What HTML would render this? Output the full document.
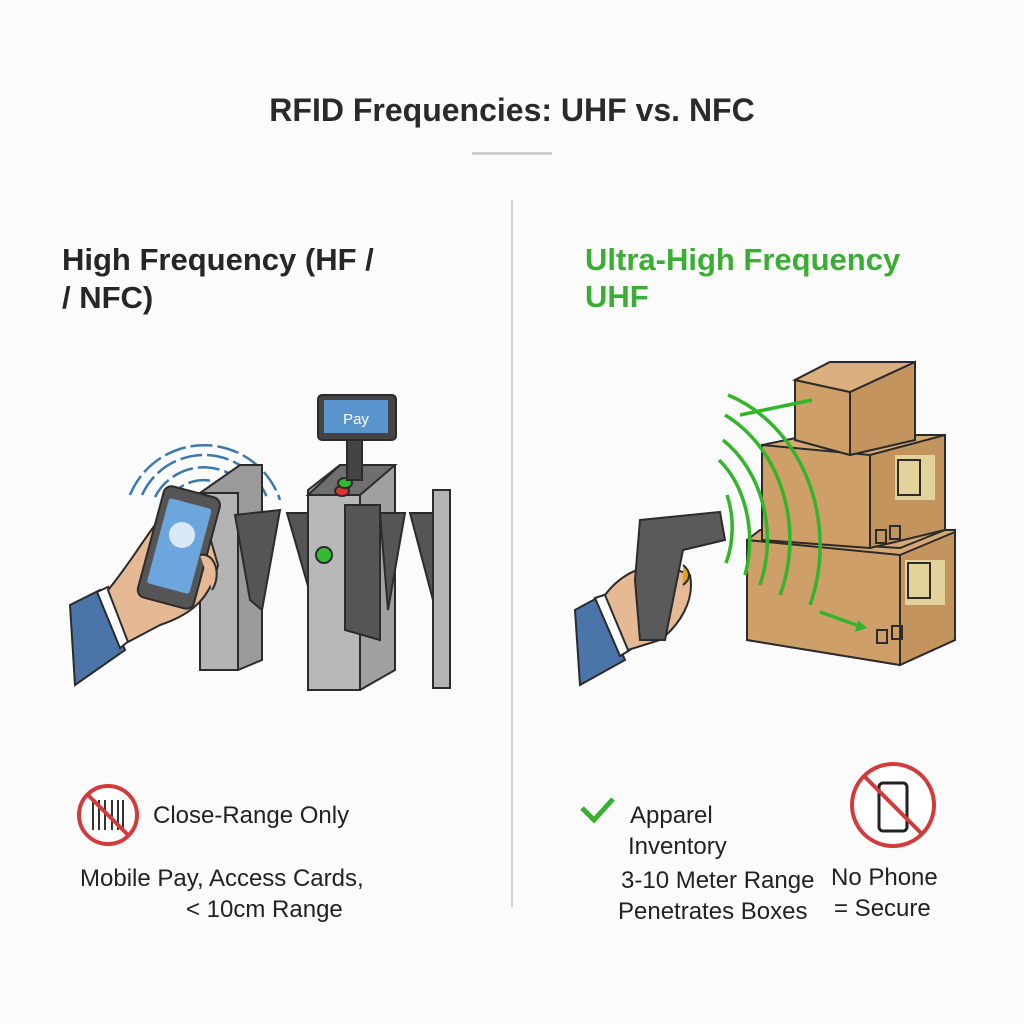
<!DOCTYPE html>
<html><head><meta charset="utf-8"><style>
html,body{margin:0;padding:0;background:#fbfbfb;}
svg{display:block;font-family:"Liberation Sans",sans-serif;}
</style></head><body>
<svg width="1024" height="1024" viewBox="0 0 1024 1024" xmlns="http://www.w3.org/2000/svg">
<rect width="1024" height="1024" fill="#fbfbfb"/>
<text x="512" y="121" text-anchor="middle" font-size="32" font-weight="bold" fill="#2a2a2a">RFID Frequencies: UHF vs. NFC</text>
<rect x="472" y="152" width="80" height="3" fill="#cfcfcf"/>
<rect x="511" y="200" width="2" height="707" fill="#d4d4d4"/>
<text x="62" y="270" font-size="31" font-weight="bold" fill="#262626">High Frequency (HF /</text>
<text x="62" y="308" font-size="31" font-weight="bold" fill="#262626">/ NFC)</text>
<text x="585" y="270" font-size="31" font-weight="bold" fill="#3aae32">Ultra-High Frequency</text>
<text x="585" y="307" font-size="31" font-weight="bold" fill="#3aae32">UHF</text>

<!-- LEFT ILLUSTRATION -->
<g stroke="#2b2b2b" stroke-width="2">
<g fill="none" stroke="#3c78b0" stroke-width="2.5" stroke-dasharray="22 5">
<path d="M130 495 A80 80 0 0 1 280 500"/>
<path d="M142 495 A68 68 0 0 1 268 500"/>
<path d="M155 497 A55 55 0 0 1 255 502"/>
<path d="M168 500 A42 42 0 0 1 242 505"/>
</g>
<polygon points="200,493 240,465 262,465 262,660 238,670 200,670" fill="#9a9a9a"/>
<rect x="200" y="493" width="38" height="177" fill="#b3b3b3"/>
<polygon points="235,515 280,510 262,610 250,600" fill="#555"/>
<polygon points="287,513 312,513 312,600" fill="#555"/>
<polygon points="308,490 340,465 395,465 395,670 360,690 308,690" fill="#a0a0a0"/>
<rect x="308" y="495" width="52" height="195" fill="#b8b8b8"/>
<polygon points="308,495 340,465 395,465 360,495" fill="#6f6f6f"/>
<ellipse cx="342" cy="491" rx="7" ry="5" fill="#d33"/>
<ellipse cx="345" cy="483" rx="7" ry="5" fill="#3b3"/>
<circle cx="324" cy="555" r="8" fill="#3b3"/>
<polygon points="345,505 380,505 380,640 345,630" fill="#555"/>
<polygon points="380,513 405,513 388,610" fill="#555"/>
<rect x="347" y="440" width="15" height="40" fill="#444"/>
<rect x="318" y="395" width="78" height="45" rx="4" fill="#444"/>
<rect x="324" y="400" width="64" height="33" fill="#5a94cc" stroke="none"/>
<text x="356" y="424" text-anchor="middle" font-size="15" fill="#fff" stroke="none"> Pay</text>
<polygon points="410,513 433,513 433,600" fill="#555"/>
<rect x="433" y="490" width="17" height="198" fill="#b3b3b3"/>
<polygon points="70,605 100,590 125,650 75,685" fill="#4b74a8"/>
<polygon points="97,592 108,587 130,640 120,648" fill="#fff"/>
<path d="M108,590 C125,570 140,545 155,525 L205,520 L218,565 C210,600 190,615 160,625 L128,642 Z" fill="#e6b995"/>
<rect x="150" y="490" width="58" height="115" rx="8" transform="rotate(15 179 547)" fill="#555"/>
<rect x="157" y="502" width="44" height="88" rx="3" transform="rotate(15 179 547)" fill="#6ca6dc" stroke="none"/>
<circle cx="182" cy="535" r="13" fill="#d9e9f7" stroke="none"/>
<path d="M200,555 C215,552 222,575 212,590" fill="#e6b995"/>
</g>

<!-- RIGHT ILLUSTRATION -->
<g stroke="#2b2b2b" stroke-width="2">
<polygon points="747,540 760,530 955,530 955,640 900,665 747,640" fill="#d6a874"/>
<polygon points="747,540 900,555 900,665 747,640" fill="#cf9f69"/>
<polygon points="900,555 955,532 955,640 900,665" fill="#c4945f"/>
<rect x="905" y="560" width="40" height="45" fill="#e3d39a" stroke="none"/>
<rect x="908" y="563" width="22" height="35" fill="none"/>
<polygon points="762,445 810,435 945,435 945,530 900,548 762,540" fill="#d6a874"/>
<polygon points="762,445 870,455 870,548 762,540" fill="#cf9f69"/>
<polygon points="870,455 945,435 945,530 870,548" fill="#c4945f"/>
<rect x="895" y="455" width="40" height="45" fill="#e3d39a" stroke="none"/>
<rect x="898" y="460" width="22" height="35" fill="none"/>
<rect x="876" y="530" width="10" height="13" fill="none"/><rect x="890" y="526" width="10" height="13" fill="none"/>
<rect x="877" y="630" width="10" height="13" fill="none"/><rect x="892" y="626" width="10" height="13" fill="none"/>
<polygon points="795,380 830,362 915,362 915,440 850,455 795,440" fill="#d6a874"/>
<polygon points="795,380 850,392 850,455 795,440" fill="#cf9f69"/>
<polygon points="850,392 915,362 915,440 850,455" fill="#c4945f"/>
<polygon points="830,362 915,362 850,392 795,380" fill="#dcb07e"/>
<g fill="none" stroke="#33b52b" stroke-width="3.5">
<path d="M727,495 A45 70 0 0 1 726,563"/>
<path d="M719,460 A75 100 0 0 1 745,575"/>
<path d="M723,440 A100 120 0 0 1 760,585"/>
<path d="M725,415 A120 140 0 0 1 780,595"/>
<path d="M728,395 A140 160 0 0 1 810,605"/>
<path d="M740,415 L812,400"/>
<path d="M820,612 L862,627"/>
</g>
<polygon points="858,620 867,628 855,632" fill="#33b52b" stroke="none"/>
<polygon points="575,610 597,598 625,660 580,685" fill="#4b74a8"/>
<polygon points="595,598 607,594 630,650 620,656" fill="#fff"/>
<path d="M605,595 C620,575 640,565 665,565 L690,575 C695,600 680,625 660,640 L628,650 Z" fill="#e6b995"/>
<path d="M640,520 L720,512 L725,540 L683,550 L665,640 L640,640 L635,580 Z" fill="#5a5a5a"/>
<path d="M683,565 C692,572 690,580 683,585" fill="#e0a520"/>
</g>

<!-- BOTTOM LEFT -->
<circle cx="108" cy="815" r="29" fill="#fff" stroke="#d23b3b" stroke-width="4"/>
<g stroke="#333" stroke-width="2"><line x1="93" y1="800" x2="93" y2="830"/><line x1="99" y1="800" x2="99" y2="830"/><line x1="105" y1="800" x2="105" y2="830"/><line x1="112" y1="800" x2="112" y2="830"/><line x1="118" y1="800" x2="118" y2="830"/><line x1="123" y1="800" x2="123" y2="830"/></g>
<line x1="88" y1="795" x2="128" y2="835" stroke="#d23b3b" stroke-width="4"/>
<text x="153" y="823" font-size="24" fill="#222">Close-Range Only</text>
<text x="80" y="886" font-size="24" fill="#222">Mobile Pay, Access Cards,</text>
<text x="186" y="917" font-size="24" fill="#222">&lt; 10cm Range</text>

<!-- BOTTOM RIGHT -->
<path d="M582,808 L594,820 L613,799" fill="none" stroke="#3aae32" stroke-width="5"/>
<text x="630" y="823" font-size="24" fill="#222">Apparel</text>
<text x="628" y="854" font-size="24" fill="#222">Inventory</text>
<text x="621" y="888" font-size="24" fill="#222">3-10 Meter Range</text>
<text x="618" y="919" font-size="24" fill="#222">Penetrates Boxes</text>
<circle cx="893" cy="805" r="41" fill="#fff" stroke="#d23b3b" stroke-width="4"/>
<rect x="879" y="783" width="28" height="48" rx="4" fill="#fff" stroke="#222" stroke-width="3"/>
<line x1="864" y1="776" x2="922" y2="834" stroke="#d23b3b" stroke-width="4"/>
<text x="831" y="885" font-size="24" fill="#222">No Phone</text>
<text x="834" y="916" font-size="24" fill="#222">= Secure</text>
</svg>
</body></html>
